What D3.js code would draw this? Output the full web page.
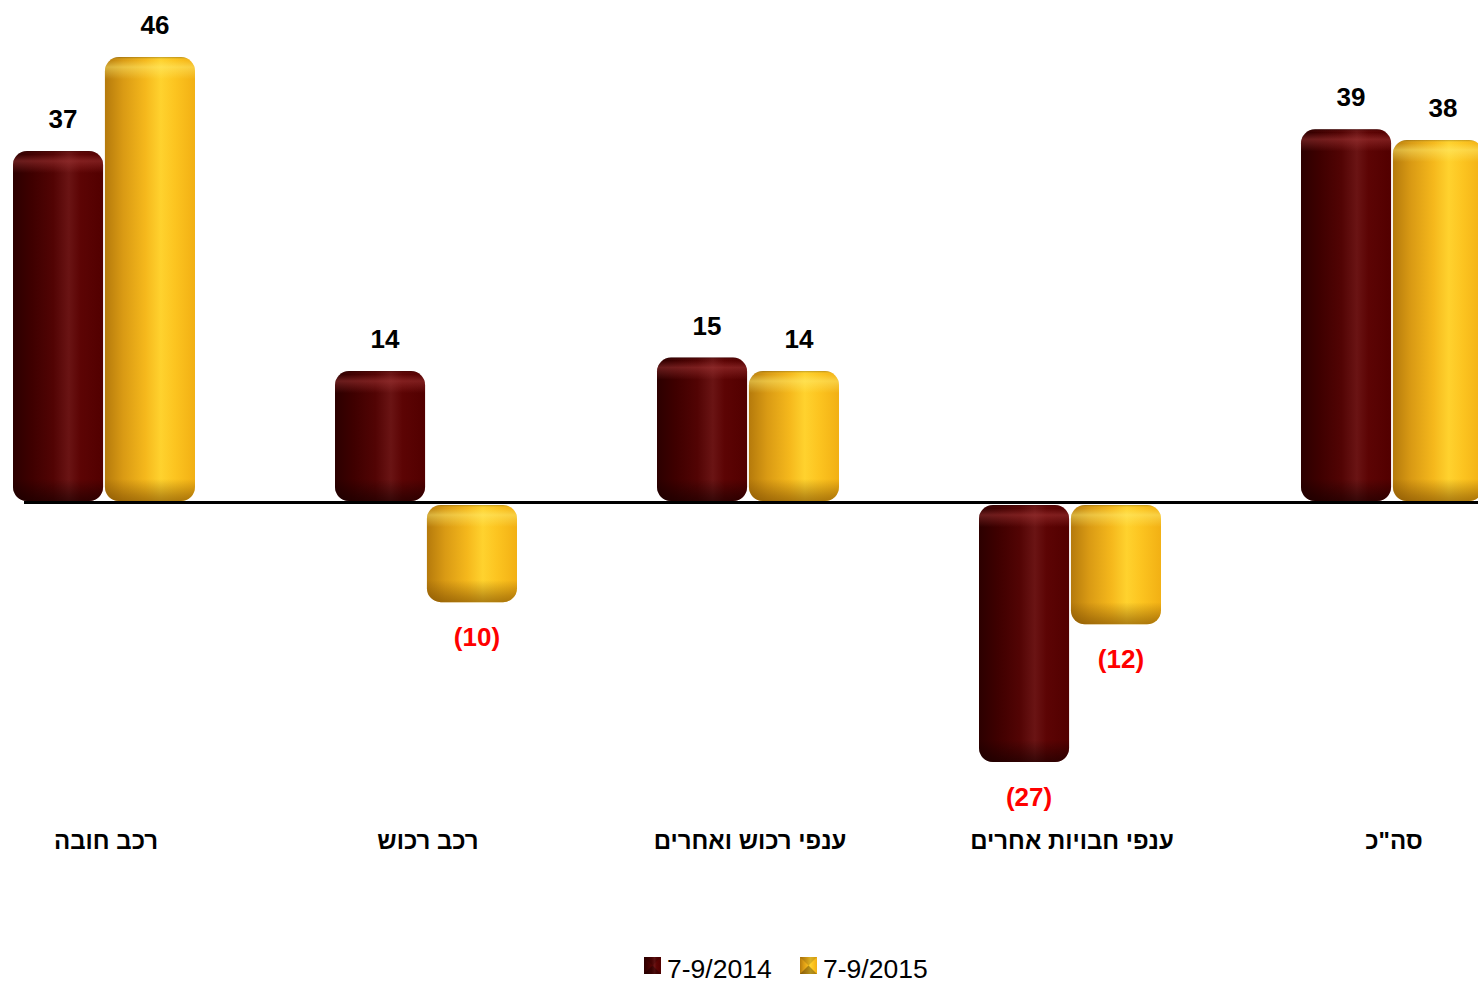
<!DOCTYPE html>
<html>
<head>
<meta charset="utf-8">
<script src="https://cdn.jsdelivr.net/npm/d3@7"></script>
<style>
  html, body { margin: 0; padding: 0; background: #fff; }
  svg { display: block; }
  text { font-family: "Liberation Sans", Arial, "DejaVu Sans", sans-serif; }
</style>
</head>
<body>
<svg id="chart" width="1478" height="983"></svg>
<script>
// ---- data ----
const categories = ["רכב חובה", "רכב רכוש", "ענפי רכוש ואחרים", "ענפי חבויות אחרים", "סה\"כ"];
const seriesNames = ["7-9/2014", "7-9/2015"];
const values2014 = [36.45, 13.6, 15.0, -27.0, 38.7];
const values2015 = [46.2, -10.4, 13.6, -12.7, 37.6];
const labels2014 = ["37", "14", "15", "(27)", "39"];
const labels2015 = ["46", "(10)", "14", "(12)", "38"];
const seriesColors = ["dark", "gold"];

const W = 1478, H = 983;
const svg = d3.select("#chart");
const defs = svg.append("defs");

// horizontal cylinder gradients
const palettes = {
  dark: [["0%", "#2c0000"], ["20%", "#3e0000"], ["45%", "#520404"], ["62%", "#6a1414"], ["75%", "#5c0404"], ["100%", "#520000"]],
  gold: [["0%", "#b57a0c"], ["20%", "#d99a14"], ["45%", "#f5b81c"], ["62%", "#ffd22e"], ["78%", "#fcc420"], ["100%", "#f2b014"]]
};
Object.entries(palettes).forEach(([k, stops]) => {
  const g = defs.append("linearGradient").attr("id", "h-" + k).attr("x1", 0).attr("x2", 1).attr("y1", 0).attr("y2", 0);
  stops.forEach(s => g.append("stop").attr("offset", s[0]).attr("stop-color", s[1]));
});

const x0 = d3.scaleBand().domain(categories).range([-57, 1553]).paddingInner(0.4348).paddingOuter(0.2174);
const x1 = d3.scaleBand().domain(seriesNames).range([0, x0.bandwidth()]).paddingInner(0.02);
const y = d3.scaleLinear().domain([-30, 50]).range([502 + 30 * 9.63, 502 - 50 * 9.63]);

const rows = [];
categories.forEach((c, i) => {
  rows.push({cat: c, s: seriesNames[0], v: values2014[i], lab: labels2014[i], col: seriesColors[0], i});
  rows.push({cat: c, s: seriesNames[1], v: values2015[i], lab: labels2015[i], col: seriesColors[1], i});
});

const y0 = y(0);
const capH = 22;
rows.forEach((d, j) => {
  const bx = x0(d.cat) + x1(d.s);
  const bw = x1.bandwidth();
  let top, bot;
  if (d.v >= 0) { top = y(d.v); bot = y0 - 1; } else { top = y0 + 3; bot = y(d.v); }
  d.bx = bx; d.bw = bw; d.top = top; d.bot = bot;
  const vg = defs.append("linearGradient").attr("id", "v" + j)
    .attr("gradientUnits", "userSpaceOnUse").attr("x1", 0).attr("x2", 0).attr("y1", top).attr("y2", bot);
  const h = bot - top;
  const f = v => Math.max(0, Math.min(1, v / h));
  const light = d.col === "gold" ? "#fff27a" : "#b04040";
  const shade = d.col === "gold" ? "#7a4a00" : "#140000";
  vg.append("stop").attr("offset", 0).attr("stop-color", "#000").attr("stop-opacity", 0.25);
  vg.append("stop").attr("offset", f(3)).attr("stop-color", light).attr("stop-opacity", 0.0);
  vg.append("stop").attr("offset", f(10)).attr("stop-color", light).attr("stop-opacity", 0.45);
  vg.append("stop").attr("offset", f(capH)).attr("stop-color", light).attr("stop-opacity", 0.0);
  vg.append("stop").attr("offset", f(h - capH)).attr("stop-color", shade).attr("stop-opacity", 0.0);
  vg.append("stop").attr("offset", f(h - 6)).attr("stop-color", shade).attr("stop-opacity", 0.45);
  vg.append("stop").attr("offset", 1).attr("stop-color", shade).attr("stop-opacity", 0.6);
});

const bars = svg.append("g").selectAll("g").data(rows).join("g");
bars.append("rect")
  .attr("x", d => d.bx).attr("y", d => d.top).attr("width", d => d.bw).attr("height", d => d.bot - d.top)
  .attr("rx", 14).attr("ry", 14)
  .attr("fill", d => "url(#h-" + d.col + ")");
bars.append("rect")
  .attr("x", d => d.bx).attr("y", d => d.top).attr("width", d => d.bw).attr("height", d => d.bot - d.top)
  .attr("rx", 14).attr("ry", 14)
  .attr("fill", (d, j) => "url(#v" + j + ")");

// baseline
svg.append("line").attr("x1", 24).attr("x2", W).attr("y1", y0 + 0.5).attr("y2", y0 + 0.5)
  .attr("stroke", "#000").attr("stroke-width", 3);

// value labels
svg.append("g").selectAll("text").data(rows).join("text")
  .attr("x", d => d.bx + d.bw / 2 + 5)
  .attr("y", d => d.v >= 0 ? d.top - 23 : d.bot + 44)
  .attr("text-anchor", "middle")
  .attr("font-size", 26).attr("font-weight", "bold")
  .attr("fill", d => d.v >= 0 ? "#000" : "#ff0000")
  .text(d => d.lab);

// category axis labels
const ax = svg.append("g").attr("transform", "translate(2,832)")
  .call(d3.axisBottom(x0).tickSize(0).tickPadding(0));
ax.select(".domain").remove();
ax.selectAll("text")
  .attr("font-size", 24).attr("font-weight", "bold").attr("fill", "#000")
  .attr("dy", "0.71em")
  .style("font-family", "\"Liberation Sans\", Arial, \"DejaVu Sans\", sans-serif")
  .attr("direction", "rtl")
  .attr("text-anchor", "middle");

// legend
const legend = svg.append("g");
const legX = [644, 800];
seriesNames.forEach((s, i) => {
  const g = legend.append("g").attr("transform", `translate(${legX[i]},957)`);
  g.append("rect").attr("width", 17).attr("height", 17).attr("fill", "url(#h-" + seriesColors[i] + ")");
  g.append("path").attr("d", "M0,0 L17,0 L8.5,8.5 Z").attr("fill", "#000").attr("opacity", 0.15);
  g.append("path").attr("d", "M0,17 L17,17 L8.5,8.5 Z").attr("fill", "#000").attr("opacity", 0.3);
  g.append("text").attr("x", 23).attr("y", 21).attr("font-size", 26.5).attr("fill", "#000").text(s);
});
</script>
</body>
</html>
